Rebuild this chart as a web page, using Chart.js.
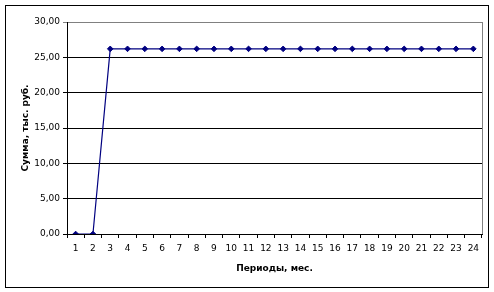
<!DOCTYPE html>
<html>
<head>
<meta charset="utf-8">
<script src="https://cdn.jsdelivr.net/npm/chart.js@4/dist/chart.umd.min.js"></script>
<style>
  html, body { margin: 0; padding: 0; background: #fff; }
  #wrap { width: 494px; height: 292px; position: relative; }
</style>
</head>
<body>
<div id="wrap"><canvas id="ChartCanvas" width="494" height="292"></canvas></div>
<script>
const periods = ['1','2','3','4','5','6','7','8','9','10','11','12','13','14','15','16','17','18','19','20','21','22','23','24'];
const sums = [0, 0, 26.2, 26.2, 26.2, 26.2, 26.2, 26.2, 26.2, 26.2, 26.2, 26.2,
              26.2, 26.2, 26.2, 26.2, 26.2, 26.2, 26.2, 26.2, 26.2, 26.2, 26.2, 26.2];
const yTitle = 'Сумма, тыс. руб.';
const xTitle = 'Периоды, мес.';

const frame = {
  id: 'frame',
  afterDraw: chart => {
    const ctx = chart.ctx;
    const a = chart.chartArea;
    ctx.save();
    ctx.lineWidth = 1;
    // grey plot area edge on the right
    ctx.strokeStyle = '#808080';
    ctx.beginPath();
    ctx.moveTo(Math.round(a.right) + 0.5, Math.round(a.top));
    ctx.lineTo(Math.round(a.right) + 0.5, Math.round(a.bottom));
    ctx.stroke();
    // outer chart border
    ctx.strokeStyle = '#000';
    ctx.strokeRect(5.5, 5.5, 483, 282);
    ctx.restore();
  }
};

const font = { family: 'DejaVu Sans', size: 9 };
const bold = { family: 'DejaVu Sans', size: 9, weight: 'bold' };

new Chart(document.getElementById('ChartCanvas'), {
  type: 'line',
  data: {
    labels: periods,
    datasets: [{
      data: sums,
      borderColor: '#000080',
      backgroundColor: '#000080',
      borderWidth: 1.2,
      pointStyle: 'rectRot',
      pointRadius: 2.8,
      pointBorderWidth: 1,
      tension: 0
    }]
  },
  options: {
    animation: false,
    responsive: false,
    devicePixelRatio: 1,
    layout: { padding: { left: 10, top: 22, right: 12, bottom: 0 } },
    plugins: {
      legend: { display: false },
      tooltip: { enabled: false }
    },
    scales: {
      x: {
        offset: true,
        afterFit: s => { s.height = 58; },
        grid: {
          offset: true,
          drawOnChartArea: false,
          drawTicks: true,
          tickLength: 4,
          color: '#000'
        },
        border: { display: true, color: '#000' },
        ticks: { color: '#000', font: font, padding: 5, maxRotation: 0, autoSkip: false },
        title: { display: true, text: xTitle, color: '#000', font: bold, padding: { top: 4, bottom: 18 } }
      },
      y: {
        min: 0,
        max: 30,
        afterFit: s => { s.width = 57; },
        grid: {
          color: c => (c.tick && c.tick.value === 30) ? '#808080' : '#000',
          tickLength: 4
        },
        border: { display: true, color: '#000' },
        ticks: {
          stepSize: 5,
          color: '#000',
          font: font,
          padding: 3,
          callback: v => v.toFixed(2).replace('.', ',')
        },
        title: { display: true, text: yTitle, color: '#000', font: bold, padding: { top: 10, bottom: 0 } }
      }
    }
  },
  plugins: [frame]
});
</script>
</body>
</html>
